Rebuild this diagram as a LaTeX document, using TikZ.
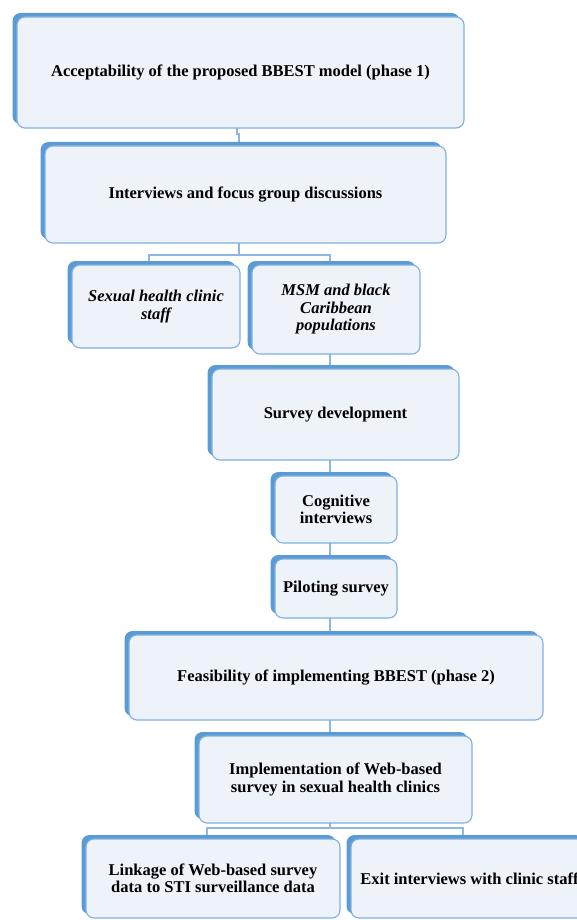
\documentclass[tikz,border=0pt]{standalone}
\usepackage{fontspec}
\setmainfont{Liberation Serif}
\usetikzlibrary{shadows,backgrounds}
\definecolor{barblue}{HTML}{5B9BD5}
\definecolor{lineblue}{HTML}{7FB0E0}
\definecolor{boxfill}{HTML}{EEF3FA}
\definecolor{connblue}{HTML}{8DB6E4}
\begin{document}
\begin{tikzpicture}[x=1pt,y=-1pt,
  box/.style={draw=lineblue, line width=1.1pt, fill=boxfill, rounded corners=8pt,
    inner sep=0pt, outer sep=0pt, align=center,
    font=\fontsize{16.5}{17.5}\selectfont\bfseries, text=black,
    general shadow={shadow xshift=-4.5pt, shadow yshift=4pt, fill=barblue}},
  conn/.style={draw=connblue, line width=1.4pt}]
\clip (0,0) rectangle (577,920);

\node[box, minimum width=447pt, minimum height=111pt] (b1) at (240.5,72.5)
  {Acceptability of the proposed BBEST model (phase 1)};
\node[box, minimum width=401pt, minimum height=97pt] (b2) at (245.5,194.5)
  {Interviews and focus group discussions};
\node[box, minimum width=168pt, minimum height=83pt] (b3) at (156,306.5)
  {\itshape Sexual health clinic\\\itshape staff};
\node[box, minimum width=168pt, minimum height=89pt] (b4) at (336,309.5)
  {\itshape MSM and black\\\itshape Caribbean\\\itshape populations};
\node[box, minimum width=247pt, minimum height=91pt] (b5) at (335.5,414.5)
  {Survey development};
\node[box, minimum width=122pt, minimum height=67pt] (b6) at (336,509.5)
  {Cognitive\\interviews};
\node[box, minimum width=122pt, minimum height=59pt] (b7) at (336,588.5)
  {Piloting survey};
\node[box, minimum width=414pt, minimum height=85pt] (b8) at (336,677.5)
  {Feasibility of implementing BBEST (phase 2)};
\node[box, minimum width=273pt, minimum height=87pt] (b9) at (335.5,779.5)
  {Implementation of Web-based\\survey in sexual health clinics};
\node[box, minimum width=254pt, minimum height=79pt] (b10) at (213,878.5)
  {Linkage of Web-based survey\\data to STI surveillance data};
\node[box, minimum width=237pt, minimum height=79pt] (b11) at (469.5,878.5)
  {Exit interviews with clinic staff};

\coordinate (j1) at (237,134);
\coordinate (j2) at (239,134);
\coordinate (s2) at (239,255);
\coordinate (l2) at (149,255);
\coordinate (r2) at (330,255);
\coordinate (v) at (330,0);
\coordinate (m8) at (330,828);
\coordinate (l8) at (207,828);
\coordinate (r8) at (463,828);

\begin{scope}[on background layer]
\fill[white] (0,0) rectangle (577,920);
\draw[conn] (b1.south -| j1) -- (j1) -- (j2) -- (b2.north -| j2);
\draw[conn] (b2.south -| s2) -- (s2);
\draw[conn] (b3.north -| l2) -- (l2) -- (r2) -- (b4.north -| r2);
\draw[conn] (b4.south -| v) -- (b5.north -| v);
\draw[conn] (b5.south -| v) -- (b6.north -| v);
\draw[conn] (b6.south -| v) -- (b7.north -| v);
\draw[conn] (b7.south -| v) -- (b8.north -| v);
\draw[conn] (b8.south -| v) -- (b9.north -| v);
\draw[conn] (b9.south -| m8) -- (m8);
\draw[conn] (b10.north -| l8) -- (l8) -- (r8) -- (b11.north -| r8);
\end{scope}
\end{tikzpicture}
\end{document}
